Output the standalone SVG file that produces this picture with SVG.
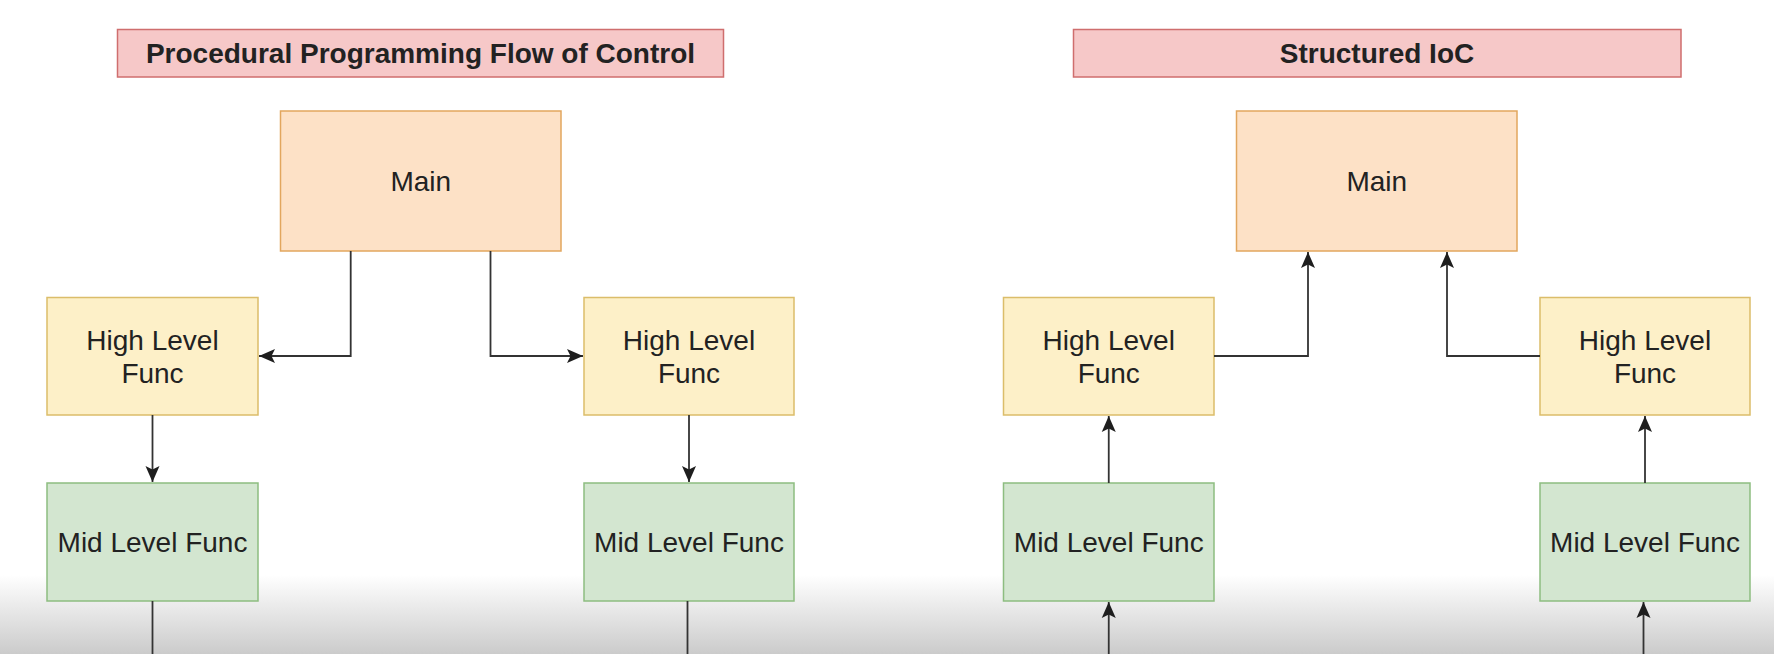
<svg xmlns="http://www.w3.org/2000/svg" width="1774" height="654" viewBox="0 0 1774 654">
  <defs>
    <linearGradient id="fade" x1="0" y1="0" x2="0" y2="1">
      <stop offset="0" stop-color="#ffffff" stop-opacity="1"/>
      <stop offset="1" stop-color="#cbcbcb" stop-opacity="1"/>
    </linearGradient>
    <marker id="arr" markerUnits="userSpaceOnUse" markerWidth="17" markerHeight="15" refX="16" refY="7.5" orient="auto" viewBox="0 0 17 15">
      <path d="M0,0.5 L16,7.5 L0,14.5 L3.5,7.5 z" fill="#1e1e1e"/>
    </marker>
    <style>
      .title rect { fill: #f6c8c8; stroke: #cf6e6e; stroke-width: 1.5; }
      .main rect { fill: #fde1c6; stroke: #e2a65e; stroke-width: 1.5; }
      .high rect { fill: #fdf0c8; stroke: #dbbd6a; stroke-width: 1.5; }
      .mid rect { fill: #d3e6d0; stroke: #8dbd80; stroke-width: 1.5; }
      text { font-family: "Liberation Sans", Arial, Helvetica, sans-serif; font-size: 28px; fill: #222; text-anchor: middle; dominant-baseline: central; }
      .title text { font-weight: bold; }
      #connectors path { fill: none; stroke: #333; stroke-width: 1.8; }
    </style>
  </defs>

  <rect x="0" y="0" width="1774" height="654" fill="#ffffff"/>
  <rect x="0" y="575" width="1774" height="79" fill="url(#fade)"/>

  <!-- Left diagram -->
  <g id="title-left" class="title">
    <rect x="117.5" y="29.5" width="606" height="47.5"/>
    <text x="420.5" y="53">Procedural Programming Flow of Control</text>
  </g>
  <g id="main-left" class="main">
    <rect x="280.5" y="111" width="280.5" height="140"/>
    <text x="420.75" y="181">Main</text>
  </g>
  <g id="high-left-1" class="high">
    <rect x="47" y="297.5" width="211" height="117.5"/>
    <text x="152.5" y="340">High Level</text>
    <text x="152.5" y="373">Func</text>
  </g>
  <g id="high-left-2" class="high">
    <rect x="584" y="297.5" width="210" height="117.5"/>
    <text x="689" y="340">High Level</text>
    <text x="689" y="373">Func</text>
  </g>
  <g id="mid-left-1" class="mid">
    <rect x="47" y="483" width="211" height="118"/>
    <text x="152.5" y="542">Mid Level Func</text>
  </g>
  <g id="mid-left-2" class="mid">
    <rect x="584" y="483" width="210" height="118"/>
    <text x="689" y="542">Mid Level Func</text>
  </g>

  <!-- Right diagram -->
  <g id="title-right" class="title">
    <rect x="1073.5" y="29.5" width="607.5" height="47.5"/>
    <text x="1377" y="53">Structured IoC</text>
  </g>
  <g id="main-right" class="main">
    <rect x="1236.5" y="111" width="280.5" height="140"/>
    <text x="1376.75" y="181">Main</text>
  </g>
  <g id="high-right-1" class="high">
    <rect x="1003.5" y="297.5" width="210.5" height="117.5"/>
    <text x="1108.75" y="340">High Level</text>
    <text x="1108.75" y="373">Func</text>
  </g>
  <g id="high-right-2" class="high">
    <rect x="1540" y="297.5" width="210" height="117.5"/>
    <text x="1645" y="340">High Level</text>
    <text x="1645" y="373">Func</text>
  </g>
  <g id="mid-right-1" class="mid">
    <rect x="1003.5" y="483" width="210.5" height="118"/>
    <text x="1108.75" y="542">Mid Level Func</text>
  </g>
  <g id="mid-right-2" class="mid">
    <rect x="1540" y="483" width="210" height="118"/>
    <text x="1645" y="542">Mid Level Func</text>
  </g>

  <g id="connectors">
    <!-- left -->
    <path d="M350.7,251 V356 H259" marker-end="url(#arr)"/>
    <path d="M490.5,251 V356 H583" marker-end="url(#arr)"/>
    <path d="M152.5,415 V482" marker-end="url(#arr)"/>
    <path d="M689,415 V482" marker-end="url(#arr)"/>
    <path d="M152.5,601 V654"/>
    <path d="M687.5,601 V654"/>
    <!-- right -->
    <path d="M1214,356 H1308 V252" marker-end="url(#arr)"/>
    <path d="M1540,356 H1447 V252" marker-end="url(#arr)"/>
    <path d="M1108.75,483 V416" marker-end="url(#arr)"/>
    <path d="M1645,483 V416" marker-end="url(#arr)"/>
    <path d="M1108.75,654 V602" marker-end="url(#arr)"/>
    <path d="M1643.5,654 V602" marker-end="url(#arr)"/>
  </g>
</svg>
